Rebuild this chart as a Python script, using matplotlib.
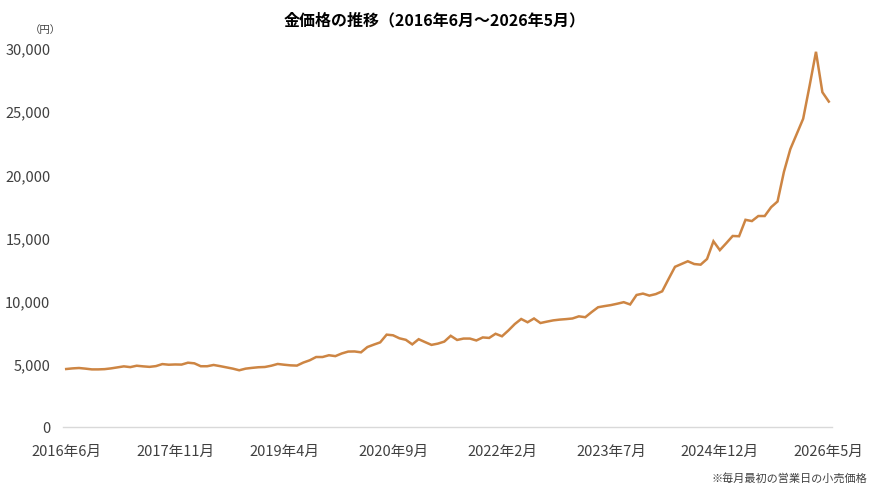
import matplotlib
matplotlib.use("Agg")
import matplotlib.pyplot as plt
from matplotlib.ticker import FuncFormatter

plt.rcParams['font.family'] = ['Noto Sans CJK JP', 'DejaVu Sans']

title = "金価格の推移（2016年6月～2026年5月）"
unit_label = "（円）"
note = "※毎月最初の営業日の小売価格"

# Monthly gold retail price (yen/g), 2016/6 .. 2026/5 (120 months)
prices = [
    4590, 4640, 4670, 4620, 4560, 4560, 4580, 4640, 4720, 4800,
    4740, 4850, 4800, 4760, 4820, 4980, 4930, 4950, 4940, 5090,
    5040, 4810, 4810, 4910, 4820, 4720, 4620, 4490, 4620, 4680,
    4730, 4750, 4850, 4990, 4930, 4880, 4860, 5100, 5280, 5540,
    5540, 5680, 5610, 5820, 5970, 5980, 5910, 6330, 6520, 6700,
    7310, 7260, 7020, 6900, 6540, 6950, 6720, 6500, 6600, 6760,
    7220, 6890, 7000, 7000, 6850, 7090, 7050, 7380, 7180, 7640,
    8150, 8550, 8290, 8590, 8230, 8340, 8440, 8500, 8540, 8590,
    8760, 8690, 9100, 9480, 9570, 9650, 9760, 9880, 9700, 10450,
    10560, 10400, 10520, 10740, 11720, 12680, 12900, 13120, 12900, 12850,
    13300, 14700, 14000, 14550, 15120, 15100, 16400, 16300, 16700, 16700,
    17400, 17850, 20200, 22000, 23200, 24400, 27000, 29700, 26500, 25760,
]

# month labels
months = []
y, m = 2016, 6
for _ in range(len(prices)):
    months.append(f"{y}年{m}月")
    m += 1
    if m > 12:
        m = 1
        y += 1

label_step = 17
y_ticks = [0, 5000, 10000, 15000, 20000, 25000, 30000]

fig = plt.figure(figsize=(8.7, 4.89), dpi=100)
ax = fig.add_axes([63/870, 1-428/489, (832-63)/870, (428-49)/489])

x = list(range(len(prices)))
ax.plot(x, prices, color='#CD8543', linewidth=1.8, solid_joinstyle='miter')

ax.set_xlim(-0.5, len(prices) - 0.5)
ax.set_ylim(0, 30000)
ax.set_yticks(y_ticks)
ax.yaxis.set_major_formatter(FuncFormatter(lambda v, p: f"{int(v):,}"))
tick_idx = list(range(0, len(prices), label_step))
ax.set_xticks(tick_idx)
ax.set_xticklabels([months[i] for i in tick_idx])

for s in ['top', 'right', 'left']:
    ax.spines[s].set_visible(False)
ax.spines['bottom'].set_color('#D9D9D9')
ax.spines['bottom'].set_linewidth(1.0)
ax.tick_params(axis='both', length=0, labelsize=10.5, colors='#404040')
ax.tick_params(axis='x', pad=12)
ax.tick_params(axis='y', pad=9)

fig.text(0.5, 1-20/489, title, ha='center', va='center', fontsize=11.5,
         fontweight='bold', color='#000000')
fig.text(45/870, 1-30/489, unit_label, ha='center', va='center', fontsize=7.5,
         color='#404040')
fig.text(867/870, 1-478/489, note, ha='right', va='center', fontsize=8,
         color='#404040')

fig.savefig("out.png", dpi=100, facecolor='white')
